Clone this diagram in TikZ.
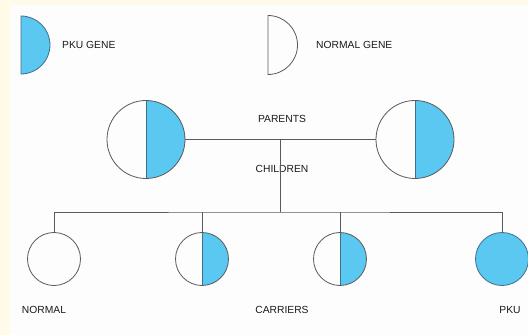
\documentclass[tikz,border=0pt]{standalone}
\usepackage{fontspec}
\setmainfont{Liberation Sans}
\definecolor{cream}{HTML}{FFFBE8}
\definecolor{panel}{HTML}{FDFDFD}
\definecolor{pku}{HTML}{5BC8F2}
\definecolor{edge}{HTML}{5A5A5A}
\definecolor{bedge}{HTML}{3F6F8C}
\begin{document}
\begin{tikzpicture}[x=1pt,y=1pt,
  lbl/.style={font=\fontsize{10.3}{12}\selectfont, text=black!90, inner sep=0pt},
  person/.style={circle, draw=edge, line width=0.8pt, inner sep=0pt, minimum size=#1},
  carrier/.style={person=#1, path picture={
     \fill[pku] (path picture bounding box.north) rectangle (path picture bounding box.south east);
     \draw[bedge, line width=0.8pt] (path picture bounding box.north) -- (path picture bounding box.south);}},
  affected/.style={person=#1, fill=pku, draw=bedge},
  link/.style={draw=edge, line width=0.7pt}]
\useasboundingbox (0,0) rectangle (528,335);
\fill[cream] (0,0) rectangle (528,335);
\fill[panel] (10,0) rectangle (528,330);
% legend
\fill[pku] (21,319) arc[start angle=90, end angle=-90, radius=29] -- cycle;
\draw[bedge, line width=0.8pt] (21,319) arc[start angle=90, end angle=-90, radius=29] -- cycle;
\node[lbl, anchor=west] (lpku) at (62,290) {PKU GENE};
\draw[edge, line width=0.8pt] (268,319.5) arc[start angle=90, end angle=-90, radius=29.5] -- cycle;
\node[lbl, anchor=west] (lnorm) at (316,290) {NORMAL GENE};
% parents
\node[carrier=78pt] (pL) at (146,195.5) {};
\node[carrier=78pt] (pR) at (415,195.5) {};
\coordinate (j) at (280,195.5);
\draw[link] (pL.east) -- (pR.west);
\node[lbl] (tpar) at (282,216) {PARENTS};
\node[lbl] (tchi) at (282,166) {CHILDREN};
% children
\node[person=53pt] (c1) at (54,76) {};
\node[carrier=53pt] (c2) at (202,76) {};
\node[carrier=53pt] (c3) at (340,76) {};
\node[affected=53pt] (c4) at (502,76) {};
\coordinate (b) at (280,123);
\draw[link] (j) -- (b);
\draw[link] (c1.north) |- (b) -| (c4.north);
\draw[link] (c2.north) -- (c2.north |- b);
\draw[link] (c3.north) -- (c3.north |- b);
\node[lbl] (t1) at (44,25) {NORMAL};
\node[lbl] (t2) at (282,25) {CARRIERS};
\node[lbl] (t3) at (510,25) {PKU};
\end{tikzpicture}
\end{document}
